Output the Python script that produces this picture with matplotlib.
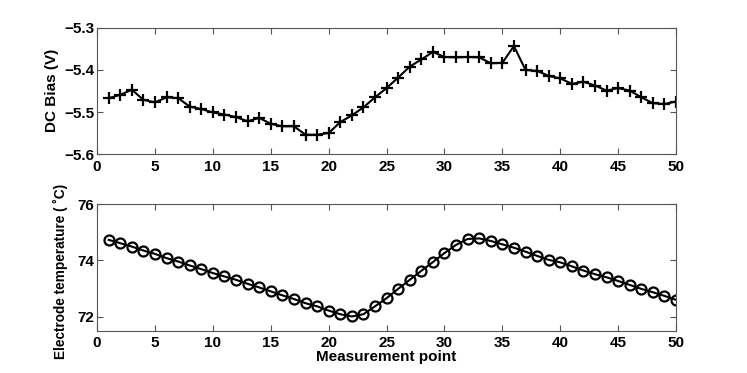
import matplotlib
matplotlib.use("Agg")
import matplotlib.pyplot as plt

points = list(range(1, 51))

dc_bias = [
    -5.467, -5.459, -5.447, -5.471, -5.477, -5.465, -5.467, -5.487, -5.493, -5.501,
    -5.506, -5.512, -5.522, -5.514, -5.528, -5.534, -5.534, -5.554, -5.554, -5.550,
    -5.524, -5.508, -5.489, -5.465, -5.443, -5.418, -5.392, -5.375, -5.357, -5.369,
    -5.370, -5.369, -5.370, -5.384, -5.383, -5.343, -5.400, -5.402, -5.414, -5.420,
    -5.433, -5.428, -5.437, -5.449, -5.443, -5.449, -5.465, -5.479, -5.481, -5.475,
]

temperature = [
    74.73, 74.61, 74.49, 74.35, 74.23, 74.08, 73.96, 73.82, 73.69, 73.55,
    73.43, 73.31, 73.17, 73.04, 72.90, 72.76, 72.63, 72.48, 72.37, 72.22,
    72.09, 72.01, 72.09, 72.37, 72.66, 72.99, 73.31, 73.63, 73.94, 74.26,
    74.55, 74.76, 74.78, 74.69, 74.57, 74.45, 74.31, 74.16, 74.02, 73.93,
    73.79, 73.64, 73.51, 73.40, 73.27, 73.13, 72.99, 72.87, 72.74, 72.60,
]

x_ticks = [0, 5, 10, 15, 20, 25, 30, 35, 40, 45, 50]
dc_ticks = [-5.6, -5.5, -5.4, -5.3]
dc_tick_labels = ["\u22125.6", "\u22125.5", "\u22125.4", "\u22125.3"]
temp_ticks = [72, 74, 76]

plt.rcParams["font.family"] = ["Liberation Sans", "DejaVu Sans"]
plt.rcParams["font.weight"] = "bold"
plt.rcParams["axes.labelweight"] = "bold"
plt.rcParams["font.size"] = 11

fig = plt.figure(figsize=(7.47, 3.73), dpi=100)
ax1 = fig.add_axes([0.130, 0.587, 0.775, 0.338])
ax2 = fig.add_axes([0.130, 0.113, 0.775, 0.340])

ax1.plot(points, dc_bias, "k-", marker="+", markersize=9, mew=1.6, lw=1.5)
ax1.set_xlim(0, 50)
ax1.set_ylim(-5.6, -5.3)
ax1.set_yticks(dc_ticks)
ax1.set_yticklabels(dc_tick_labels)

ax2.plot(points, temperature, "k-", marker="o", markersize=7.2, mfc="none",
         mew=1.6, lw=1.5)
ax2.set_xlim(0, 50)
ax2.set_ylim(71.5, 76)
ax2.set_yticks(temp_ticks)
ax2.set_xlabel("Measurement point", fontsize=11, labelpad=0)

# y labels placed by hand, centred on the measured reference positions
fig.text(0.069, 0.757, "DC Bias (V)", rotation=90, ha="center", va="center",
         fontsize=11, fontweight="bold")
fig.text(0.081, 0.273, "Electrode temperature ( \u02daC)", rotation=90,
         ha="center", va="center", fontsize=9.8, fontweight="bold")

for ax in (ax1, ax2):
    ax.set_xticks(x_ticks)
    ax.tick_params(direction="in", top=True, right=True, length=4,
                   color="#555555")
    ax.tick_params(axis="x", pad=4)
    ax.tick_params(axis="y", pad=2)
    for s in ax.spines.values():
        s.set_color("#555555")
        s.set_linewidth(0.8)
    for lab in ax.get_xticklabels() + ax.get_yticklabels():
        lab.set_fontweight("bold")

fig.savefig("out.png", dpi=100)
